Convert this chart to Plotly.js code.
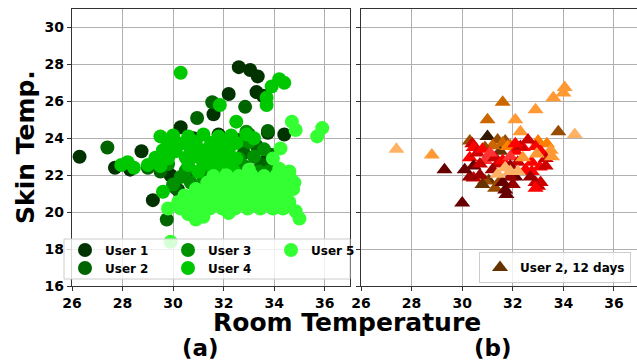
<!DOCTYPE html>
<html><head><meta charset="utf-8">
<script src="https://cdn.plot.ly/plotly-3.0.1.min.js"></script>
<style>html,body{margin:0;padding:0;background:#fff}</style>
</head><body><div id="chart" style="width:637px;height:360px"></div>
<script>
// ---- Panel (a): room vs skin temperature per user ----
const users = ["User 1", "User 2", "User 3", "User 4", "User 5"];
const u1x = [26.3, 27.7, 28.3, 28.75, 32.6, 33.05, 33.35, 33.3, 33.55, 32.2, 31.6, 30.3, 33.75, 34.4, 29.2, 30.2, 31.0, 32.0, 33.5, 33.7, 30.6, 31.2, 29.9, 31.8, 30.8];
const u1y = [23.0, 22.4, 22.3, 23.3, 27.85, 27.7, 27.35, 26.5, 26.3, 26.4, 25.3, 24.6, 24.3, 24.2, 20.65, 21.2, 23.0, 23.5, 22.5, 22.8, 22.4, 21.5, 22.0, 24.2, 24.0];
const u2x = [27.4, 29.0, 31.55, 32.85, 30.95, 29.75, 33.75, 33.3, 32.8, 33.9, 33.5, 33.0, 32.6, 30.1, 30.6, 31.4, 33.2, 34.0, 29.5];
const u2y = [23.5, 22.4, 25.95, 25.7, 25.1, 19.6, 24.4, 23.6, 23.2, 23.1, 22.6, 24.2, 23.9, 21.3, 21.9, 21.6, 22.2, 22.3, 22.2];
const u3x = [30.3, 30.7, 31.2, 30.5, 31.5, 30.9, 32.8, 33.2, 33.6, 33.0, 33.8, 33.4, 32.6, 32.9, 29.8, 31.8, 30.0];
const u3y = [21.9, 21.6, 21.9, 22.25, 22.3, 21.3, 22.5, 23.0, 23.4, 23.8, 22.2, 22.2, 22.9, 24.35, 22.6, 22.0, 21.5];
const u4x = [30.3, 34.2, 34.4, 33.9, 33.7, 33.7, 31.85, 32.5, 32.9, 28.2, 28.45, 27.95, 29.6, 33.2,
  29.5, 30.0, 30.6, 31.2, 31.8, 32.3,
  29.8, 30.3, 30.9, 31.5, 32.0, 32.5,
  29.6, 30.1, 30.7, 31.2, 31.7, 32.2,
  29.3, 29.8, 30.5, 31.0, 31.5, 32.0, 32.5,
  29.0, 29.5, 30.6, 31.2, 31.7, 32.2,
  31.0, 31.6, 32.4];
const u4y = [27.55, 27.2, 27.0, 26.8, 26.2, 25.8, 25.8, 24.9, 24.2, 22.7, 22.4, 22.55, 21.1, 24.0,
  24.1, 24.15, 24.1, 24.2, 24.1, 24.15,
  23.75, 23.7, 23.8, 23.75, 23.7, 23.75,
  23.35, 23.3, 23.4, 23.35, 23.3, 23.35,
  22.95, 22.9, 22.95, 23.0, 22.9, 22.95, 22.9,
  22.55, 22.5, 22.55, 22.6, 22.5, 22.55,
  22.2, 22.15, 22.25];
const u5x = [31.6, 32.1, 32.6, 33.1, 33.6, 34.1, 34.6,
  31.35, 31.85, 32.35, 32.85, 33.35, 33.85, 34.35, 34.8,
  30.9, 31.4, 31.9, 32.4, 32.9, 33.4, 33.9, 34.4, 34.75,
  30.45, 30.95, 31.45, 31.95, 32.45, 32.95, 33.45, 33.95, 34.45,
  30.2, 30.7, 31.2, 31.7, 32.2, 32.7, 33.2, 33.7, 34.2, 34.6,
  29.8, 30.3, 30.95, 31.45, 31.95, 32.45, 32.95, 33.45, 33.95, 34.35,
  30.9, 31.2, 32.2, 34.85, 35.0, 29.9, 34.7, 34.85, 35.7, 35.9, 34.25, 33.95, 34.6, 30.6, 33.0, 34.2];
const u5y = [21.95, 22.0, 21.95, 22.0, 21.95, 22.0, 21.95,
  21.6, 21.6, 21.6, 21.6, 21.6, 21.6, 21.6, 21.6,
  21.25, 21.25, 21.25, 21.25, 21.25, 21.25, 21.25, 21.25, 21.25,
  20.9, 20.9, 20.9, 20.9, 20.9, 20.9, 20.9, 20.9, 20.9,
  20.55, 20.55, 20.55, 20.55, 20.55, 20.55, 20.55, 20.55, 20.55, 20.55,
  20.2, 20.2, 20.2, 20.2, 20.2, 20.2, 20.2, 20.2, 20.2, 20.2,
  19.6, 19.75, 19.95, 20.05, 19.65, 18.4, 24.9, 24.45, 24.1, 24.55, 23.45, 22.9, 22.2, 19.9, 22.3, 22.35];

// ---- Panel (b): User 2 over 12 days ----
const dayLabel = "User 2, 12 days";
const bx = [31.5, 27.4, 28.8, 29.3, 30.0, 31.6, 31.0, 31.0, 32.1, 32.3, 32.9, 33.6, 34.05, 34.0, 33.8, 34.45,
  30.3, 31.4, 31.7, 31.6, 31.9, 31.05, 30.9, 31.8, 33.35, 31.2, 30.9, 31.5, 30.8, 31.3, 33.0, 33.5,
  30.4, 30.45, 30.3, 30.9, 31.0, 30.45, 30.45, 30.7, 31.3, 32.1, 32.4, 32.3, 32.9, 32.75, 33.07, 32.9, 33.1, 32.0, 31.75, 31.7, 32.1, 31.9, 32.75, 33.3,
  30.6, 30.8, 31.1, 31.4, 31.6, 31.9, 32.2, 32.5, 32.7, 33.0, 32.9, 31.6, 31.2, 30.7, 32.1, 32.6, 33.1, 30.3, 30.1, 31.9, 33.3,
  31.4, 31.9, 32.2, 31.7, 32.4, 32.95, 33.55];
const by = [23.3, 23.4, 23.1, 22.3, 20.5, 25.95, 25.0, 24.1, 25.0, 24.35, 25.55, 26.2, 26.75, 26.45, 24.35, 24.2,
  23.85, 23.9, 23.85, 23.75, 23.6, 21.7, 21.7, 23.55, 23.7, 23.6, 23.5, 21.7, 21.5, 21.3, 23.85, 23.35,
  23.7, 23.5, 22.95, 22.8, 22.95, 22.5, 21.85, 22.0, 22.95, 23.3, 23.5, 23.55, 23.55, 22.7, 22.45, 21.6, 21.6, 21.5, 20.95, 21.2, 21.9, 21.9, 22.2, 22.5,
  23.2, 23.4, 23.2, 22.6, 22.8, 23.0, 22.7, 22.3, 21.9, 21.4, 21.3, 21.6, 22.3, 22.6, 23.7, 23.9, 23.3, 21.9, 22.3, 22.5, 22.9,
  22.05, 22.2, 22.2, 22.4, 22.95, 23.15, 23.0];
const bday = [0, 6, 5, 7, 7, 3, 3, 1, 5, 5, 5, 5, 5, 5, 2, 6,
  2, 2, 2, 3, 3, 0, 2, 4, 4, 3, 2, 2, 0, 2, 4, 5,
  9, 10, 10, 11, 11, 7, 9, 8, 9, 10, 10, 9, 10, 10, 10, 9, 9, 8, 7, 7, 7, 8, 10, 9,
  9, 10, 11, 9, 10, 11, 9, 10, 8, 9, 10, 7, 8, 9, 10, 9, 10, 8, 7, 8, 9,
  6, 6, 6, 6, 5, 5, 5];

const xticks = [26, 28, 30, 32, 34, 36];
const yticks = [16, 18, 20, 22, 24, 26, 28, 30];

// styles
const userColors = ["#003300", "#006400", "#009000", "#00c800", "#33ff33"];
const dayColors = ["#663300", "#331900", "#994c00", "#cc6600", "#ff8000", "#ff9933", "#ffb266", "#660000", "#990000", "#cc0000", "#ff0000", "#ff3333"];
const legendOf = ["legend", "legend3", "legend", "legend3", "legend"];

const ux = [u1x, u2x, u3x, u4x, u5x];
const uy = [u1y, u2y, u3y, u4y, u5y];
const traces = users.map((name, i) => ({
  type: "scatter", mode: "markers", x: ux[i], y: uy[i], name: name,
  xaxis: "x", yaxis: "y", legend: legendOf[i],
  marker: { size: 14, color: userColors[i], line: { width: 0 } }
}));
traces.push({
  type: "scatter", mode: "markers", x: bx, y: by, name: dayLabel,
  xaxis: "x2", yaxis: "y2", legend: "legend2", showlegend: true,
  marker: { size: 14, symbol: "triangle-up", color: bday.map(d => dayColors[d]), line: { width: 0 } }
});

const bold = (s) => ({ family: "DejaVu Sans", size: s, weight: "bold", color: "#000" });
const axBase = {
  showline: true, linecolor: "#333", linewidth: 1.2, mirror: true,
  ticks: "outside", ticklen: 4, tickwidth: 1, tickcolor: "#333",
  showgrid: true, gridcolor: "#b0b0b0", gridwidth: 1, zeroline: false,
  tickfont: bold(14)
};
const rowLegend = (yc) => ({
  orientation: "h", x: 65 / 637, xanchor: "left", y: (360 - yc) / 360, yanchor: "middle",
  entrywidth: 58, entrywidthmode: "pixels",
  bgcolor: "rgba(0,0,0,0)", borderwidth: 0, font: bold(12), traceorder: "normal"
});

const layout = {
  width: 637, height: 360, margin: { l: 0, r: 0, t: 0, b: 0 },
  paper_bgcolor: "#fff", plot_bgcolor: "#fff",
  xaxis: Object.assign({}, axBase, { domain: [72 / 637, 350 / 637], range: [26, 37], tickvals: xticks, anchor: "y" }),
  yaxis: Object.assign({}, axBase, { domain: [74 / 360, 351 / 360], range: [16, 31], tickvals: yticks, anchor: "x" }),
  xaxis2: Object.assign({}, axBase, { domain: [361 / 637, 1], range: [26, 36.91], tickvals: xticks, anchor: "y2" }),
  yaxis2: Object.assign({}, axBase, { domain: [74 / 360, 351 / 360], range: [16, 31], tickvals: yticks, anchor: "x2", matches: "y", mirror: false, showticklabels: false }),
  legend: rowLegend(250),
  legend3: rowLegend(268),
  legend2: {
    x: 631 / 637, xanchor: "right", y: (360 - 283) / 360, yanchor: "bottom",
    bgcolor: "rgba(255,255,255,0.8)", bordercolor: "#cccccc", borderwidth: 1,
    font: bold(12), tracegroupgap: 0
  },
  shapes: [
    { type: "rect", xref: "paper", yref: "paper", x0: 64 / 637, x1: 350 / 637, y0: (360 - 279) / 360, y1: (360 - 239) / 360,
      fillcolor: "rgba(255,255,255,0.8)", line: { color: "#cccccc", width: 1 }, layer: "above" }
  ],
  annotations: [
    { text: "Skin Temp.", xref: "paper", yref: "paper", x: 25 / 637, y: (360 - 147) / 360, xanchor: "center", yanchor: "middle", textangle: -90, showarrow: false, font: bold(25) },
    { text: "Room Temperature", xref: "paper", yref: "paper", x: 347 / 637, y: (360 - 322) / 360, xanchor: "center", yanchor: "middle", showarrow: false, font: bold(25) },
    { text: "(a)", xref: "paper", yref: "paper", x: 200 / 637, y: (360 - 348) / 360, xanchor: "center", yanchor: "middle", showarrow: false, font: bold(23) },
    { text: "(b)", xref: "paper", yref: "paper", x: 493 / 637, y: (360 - 348) / 360, xanchor: "center", yanchor: "middle", showarrow: false, font: bold(23) }
  ],
  showlegend: true
};

Plotly.newPlot("chart", traces, layout, { staticPlot: true, displayModeBar: false });
</script></body></html>
